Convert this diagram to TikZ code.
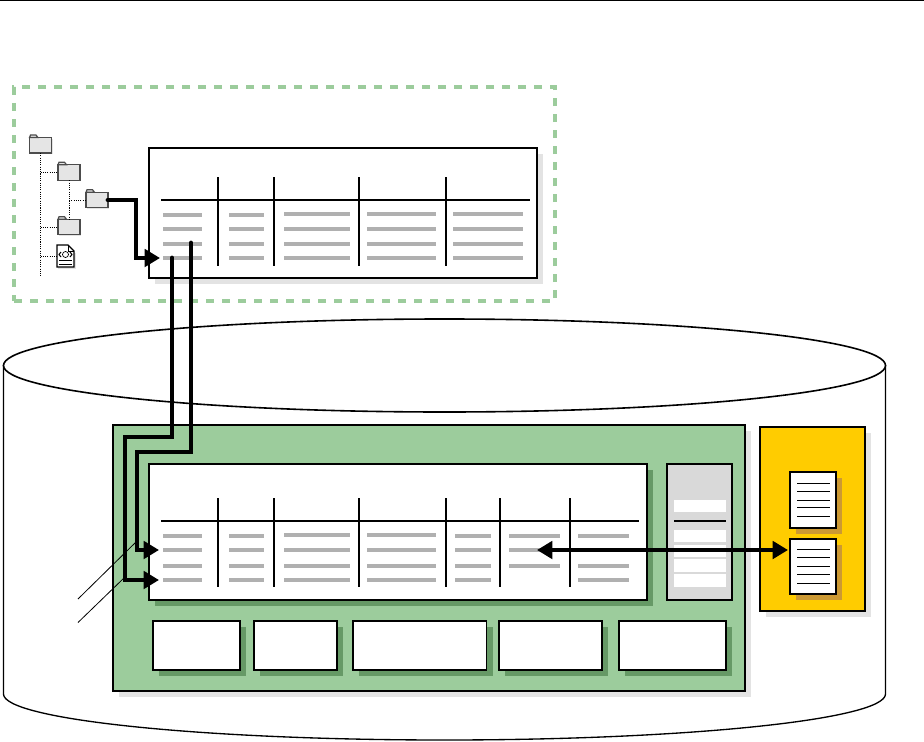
\documentclass[tikz,border=0pt]{standalone}
\usepackage{tikz}
\usetikzlibrary{arrows.meta,positioning,shapes.geometric,shadows}

\definecolor{framegreen}{HTML}{9CCC9C}
\definecolor{deepgreen}{HTML}{669966}
\definecolor{softgray}{HTML}{E3E3E3}
\definecolor{rowgray}{HTML}{B0B0B0}
\definecolor{panelgray}{HTML}{D9D9D9}
\definecolor{amber}{HTML}{FFCC00}
\definecolor{darkamber}{HTML}{CC9933}

\begin{document}
\begin{tikzpicture}[
    x=0.75pt, y=-0.75pt,
    >={Triangle[length=11.5pt,width=13pt]},
    line width=1.2pt,
    size/.style n args={2}{minimum width=#1*0.75pt, minimum height=#2*0.75pt, inner sep=0pt, outer sep=0pt},
    softshadow/.style={drop shadow={shadow xshift=4.5pt, shadow yshift=-4.5pt, fill=#1, opacity=1}},
    plain/.style={draw, fill=white},
    frame/.style={draw=framegreen, line width=3pt, dash pattern=on 6pt off 6pt},
    tablebox/.style={plain, softshadow=#1},
    slotbox/.style={plain, softshadow=deepgreen},
    logdoc/.style={plain, softshadow=darkamber},
    folder/.style={draw=black!70, line width=0.9pt, fill=black!10, size={22}{15.5}, drop shadow={shadow xshift=0.8pt, shadow yshift=-0.8pt, fill=softgray, opacity=1}},
    tree/.style={line width=0.6pt, dash pattern=on 0.8pt off 0.9pt},
    rowline/.style={draw=rowgray, line width=2.6pt},
    bus/.style={line width=3.7pt, line cap=round, miter limit=10},
    leader/.style={line width=0.6pt}
]
\useasboundingbox (0,0) rectangle (924,742);
\draw[line width=0.6pt] (0,0.5) -- (924,0.5);

% source area
\node[frame, size={541}{214}] (sourcearea) at (284.5,194) {};
\coordinate (treeend) at (40.5,276);
\node[folder] (rootfolder) at (40.5,145.3) {};
\node[folder] (subfolder) at (69,172.5) {};
\node[folder] (leaffolder) at (97,200) {};
\node[folder] (nextfolder) at (69,227) {};
\node[draw=none, size={17}{22}] (markupfile) at (65.5,256) {};
\foreach \name in {rootfolder,subfolder,leaffolder,nextfolder}
    \draw[draw=black!70, line width=0.9pt, fill=black!10] (\name.north west) -- ++(1,-2.5) -- ++(5.5,0) -- ++(2,2.5) -- cycle;
\draw[tree] (rootfolder.south) -- (treeend);
\draw[tree] (subfolder.south) -- (nextfolder.north);
\draw[tree] (rootfolder.south |- subfolder.west) -- (subfolder.west);
\draw[tree] (subfolder.south |- leaffolder.west) -- (leaffolder.west);
\draw[tree] (rootfolder.south |- nextfolder.west) -- (nextfolder.west);
\draw[tree] (rootfolder.south |- markupfile.west) -- (markupfile.west);
\draw[softgray, line width=1pt] (markupfile.south west) ++(1,1) -- ++(17,0) -- ++(0,-15);
\draw[line width=0.8pt, fill=white] (markupfile.south west) -- (markupfile.north west) -- ++(11,0) -- ++(6,6) -- (markupfile.south east) -- cycle;
\draw[line width=0.6pt] (markupfile.north west) ++(11,0) -- ++(0,6) -- ++(6,0);
\draw[line width=0.5pt] (65.5,254.5) circle[radius=3];
\draw[line width=0.8pt] (61,252) -- (59,254.5) -- (61,257) (70,252) -- (72,254.5) -- (70,257);
\draw[line width=0.7pt] (59,260.5) -- (72,260.5) (59,264) -- (72,264);

% source table
\node[tablebox=softgray, size={388}{130}] (sourcetable) at (343,213) {};
\draw (161,200) -- (530,200);
\foreach \colx in {218,274,359,446}
    \draw (\colx,177) -- (\colx,266);
\foreach \xa/\xb in {163/202,229/264}
    \draw[rowline] (\xa,215) -- (\xb,215);
\foreach \xa/\xb in {284/350,367/436,453/523}
    \draw[rowline] (\xa,214) -- (\xb,214);
\foreach \rowy in {229,244,258}
    \foreach \xa/\xb in {163/202,229/264,284/350,367/436,453/523}
        \draw[rowline] (\xa,\rowy) -- (\xb,\rowy);
\coordinate (sourcerow) at (160,258);
\coordinate (keya) at (172,258);
\coordinate (keyb) at (191,243);

% database
\draw[fill=white, line width=1pt] (3.5,365.5) -- (3.5,694) arc[start angle=180, end angle=360, x radius=330.75pt, y radius=34.5pt] -- (885.5,365.5) -- cycle;
\node[draw, ellipse, fill=white, size={882}{93}] (dbtop) at (444.5,365.5) {};

% schema block
\node[draw, fill=framegreen, softshadow=softgray, size={632}{266}] (schemablock) at (429,558) {};
\node[tablebox=deepgreen, size={498}{136}] (targettable) at (398,532) {};
\draw (161,521) -- (639,521);
\foreach \colx in {218,274,359,446,500,570}
    \draw (\colx,498) -- (\colx,587);
\foreach \xa/\xb in {163/202,229/264,455/491,509/560,578/629}
    \draw[rowline] (\xa,536) -- (\xb,536);
\foreach \xa/\xb in {284/350,367/436}
    \draw[rowline] (\xa,535) -- (\xb,535);
\foreach \rowy in {550,566,580}
    \foreach \xa/\xb in {163/202,229/264,284/350,367/436,455/491,578/629}
        \draw[rowline] (\xa,\rowy) -- (\xb,\rowy);
\foreach \rowy in {550,566}
    \draw[rowline] (509,\rowy) -- (560,\rowy);

% side panel
\node[draw, fill=panelgray, size={65}{136}] (sidepanel) at (699.5,532) {};
\foreach \ya/\yb in {500/512,530/542,545/557,559/572,574/587}
    \fill[white] (674,\ya) rectangle (726,\yb);
\draw (674,521) -- (726,521);

% slots under the table
\node[slotbox, size={87}{49}] (slota) at (196.5,645.5) {};
\node[slotbox, size={83}{49}] (slotb) at (295.5,645.5) {};
\node[slotbox, size={133.5}{49}] (slotc) at (419.75,645.5) {};
\node[slotbox, size={103}{49}] (slotd) at (550.5,645.5) {};
\node[slotbox, size={107}{49}] (slote) at (672.5,645.5) {};

% log files
\node[draw, fill=amber, softshadow=softgray, size={105}{184}] (logblock) at (812.5,519) {};
\node[logdoc, size={46}{56}] (logdoca) at (813,500) {};
\node[logdoc, size={46}{55}] (logdocb) at (813,566.5) {};
\foreach \rowy in {483,491,500,507,516,549,557,566,574,583}
    \draw[line width=0.7pt] (797,\rowy) -- (830,\rowy);

% connectors
\coordinate (calloutb) at (78,599);
\coordinate (calloutc) at (78,622.5);
\coordinate (laneb) at (137,452);
\coordinate (lanea) at (125,437);
\coordinate (targetb) at (159,550);
\coordinate (targeta) at (159,580);
\coordinate (fieldpoint) at (537,550);
\draw[leader] (calloutb) -- (laneb |- 0,541);
\draw[leader] (calloutc) -- (lanea |- 0,577);
\draw[bus, ->] (leaffolder.east) -- ++(28,0) |- (sourcerow);
\draw[bus, ->] (keya) |- (lanea) |- (targeta);
\draw[bus, ->] (keyb) |- (laneb) |- (targetb);
\draw[bus, <->, shorten >=1.5pt] (fieldpoint) -- (fieldpoint -| logdocb.west);
\end{tikzpicture}
\end{document}
